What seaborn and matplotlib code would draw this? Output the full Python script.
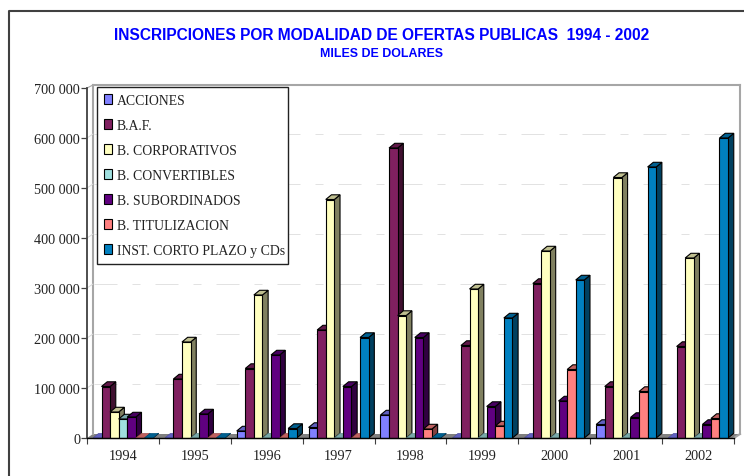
import matplotlib
matplotlib.use("Agg")
import matplotlib.pyplot as plt
from matplotlib.patches import Polygon, Patch
from matplotlib.colors import to_rgb
from matplotlib.lines import Line2D
import seaborn as sns
import pandas as pd

years = ["1994", "1995", "1996", "1997", "1998", "1999", "2000", "2001", "2002"]
acciones = [0, 0, 14, 21, 46, 0, 0, 27, 0]
baf = [103, 118, 139, 216, 580, 185, 309, 103, 183]
corporativos = [52, 192, 286, 477, 245, 298, 374, 521, 360]
convertibles = [38, 0, 0, 0, 0, 0, 0, 0, 0]
subordinados = [42, 48, 166, 103, 201, 63, 74, 41, 27]
titulizacion = [0, 0, 0, 0, 18, 24, 137, 93, 39]
corto_plazo = [0, 0, 19, 201, 0, 240, 316, 542, 600]
series_names = ["ACCIONES", "B.A.F.", "B. CORPORATIVOS", "B. CONVERTIBLES",
                "B. SUBORDINADOS", "B. TITULIZACION", "INST. CORTO PLAZO y CDs"]
series_values = [acciones, baf, corporativos, convertibles, subordinados, titulizacion, corto_plazo]
colors = ["#8080FF", "#802060", "#FFFFC0", "#A0E0E0", "#600080", "#FF8080", "#0080C0"]
y_ticks = [0, 100000, 200000, 300000, 400000, 500000, 600000, 700000]

W, H = 744, 477
sns.set_theme(style="white")
plt.rcParams["font.family"] = ["Liberation Serif", "DejaVu Serif"]

df = pd.DataFrame([
    {"year": y, "serie": n, "valor": v * 1000}
    for n, vals in zip(series_names, series_values)
    for y, v in zip(years, vals)
])

fig = plt.figure(figsize=(W / 100, H / 100), dpi=100, facecolor="white")
ax = fig.add_axes([87 / W, (H - 439) / H, (734 - 87) / W, 350 / H])
sns.barplot(data=df, x="year", y="valor", hue="serie", hue_order=series_names,
            palette=colors, width=0.835, dodge=True, errorbar=None, legend=False,
            saturation=1, edgecolor="black", linewidth=0.8, ax=ax)
ax.set_xlim(-0.5, 8.5)
ax.set_ylim(0, 700000)
ax.set_xlabel("")
ax.set_ylabel("")
ax.patch.set_alpha(0)

px_x = 9 / (734 - 87)      # data units per pixel, x
px_y = 2000                # data units per pixel, y
wall_dx, wall_dy = 6 * px_x, 4 * px_y
bar_dx, bar_dy = 5.7 * px_x, 4.7 * px_y
xl, xr = -0.5, 8.5

# walls and floor
ax.add_patch(Polygon([(xl, 0), (xr, 0), (xr + wall_dx, wall_dy), (xl + wall_dx, wall_dy)],
                     closed=True, fc="#808080", ec="none", clip_on=False, zorder=0.5))
wall_c = "#A6A6A6"
top = 700000 + 3 * px_y
for xs, ys in [((xl + wall_dx, xl + wall_dx), (wall_dy, top)),
               ((xl + wall_dx, xr + wall_dx), (top, top)),
               ((xr + wall_dx, xr + wall_dx), (wall_dy, top)),
               ((xr, xr + wall_dx), (0, wall_dy))]:
    ax.plot(xs, ys, color=wall_c, lw=1.5, clip_on=False, zorder=0.6, solid_capstyle="projecting")

for v in y_ticks[1:-1]:
    ax.plot([xl + wall_dx, xr + wall_dx], [v + wall_dy, v + wall_dy], color="#E2E2E2", lw=0.72,
            linestyle=(60, (23, 15, 8, 15)), clip_on=False, zorder=0.7)
    ax.plot([xl, xl + wall_dx], [v, v + wall_dy], color="#D8D8D8", lw=0.72, clip_on=False, zorder=0.7)
ax.plot([xl, xl + wall_dx], [700000, top], color=wall_c, lw=0.8, clip_on=False, zorder=0.7)

def shade(c, f):
    return tuple(f * k for k in to_rgb(c))

# extruded faces, built from the bars seaborn drew
for s_idx, cont in enumerate(ax.containers):
    col = colors[s_idx]
    for bar in cont.patches:
        x0, w, h = bar.get_x(), bar.get_width(), bar.get_height()
        x1 = x0 + w
        z = 2 + x0 + 0.001 * s_idx
        bar.set_zorder(z + 0.002)
        bar.set_clip_on(False)
        ax.add_patch(Polygon([(x1, 0), (x1 + bar_dx, bar_dy), (x1 + bar_dx, h + bar_dy), (x1, h)],
                             closed=True, fc=shade(col, 0.5), ec="black", lw=0.8,
                             clip_on=False, zorder=z))
        ax.add_patch(Polygon([(x0, h), (x1, h), (x1 + bar_dx, h + bar_dy), (x0 + bar_dx, h + bar_dy)],
                             closed=True, fc=shade(col, 0.75), ec="black" if h > 0 else shade(col, 0.6),
                             lw=0.8 if h > 0 else 0.4, clip_on=False, zorder=z + 0.001))

# axes
for s in ("top", "right"):
    ax.spines[s].set_visible(False)
ax.spines["left"].set_color("#404040")
ax.spines["left"].set_linewidth(1.3)
ax.spines["bottom"].set_color("black")
ax.spines["bottom"].set_linewidth(1.0)
ax.spines["bottom"].set_zorder(20)
ax.set_yticks(y_ticks)
ax.set_yticklabels([f"{v:,}".replace(",", " ") for v in y_ticks])
ax.set_xticks(range(len(years)))
ax.set_xticklabels(years)
ax.set_xticks([i - 0.5 for i in range(len(years) + 1)], minor=True)
ax.tick_params(axis="x", which="major", length=0, pad=8, labelsize=10.3, labelcolor="#222222")
ax.tick_params(axis="x", which="minor", length=4, width=0.8, color="#404040", bottom=True)
ax.tick_params(axis="y", length=4, width=0.9, color="#404040", left=True, pad=1,
               labelsize=10.3, labelcolor="#222222")

# legend
handles = [Patch(facecolor=c, edgecolor="black", linewidth=0.8) for c in colors]
lx0, ly_top, lw_, lh = 97 / W, (H - 88 ) / H, 191 / W, 177 / H
leg = ax.legend(handles, series_names, loc="upper left", mode="expand",
                bbox_to_anchor=(lx0, ly_top - lh, lw_, lh), bbox_transform=fig.transFigure,
                borderaxespad=0, fontsize=9.9, frameon=True, fancybox=False, framealpha=1,
                facecolor="white", edgecolor="#222222", handlelength=0.58, handleheight=0.78,
                handletextpad=0.36, labelspacing=0.875, borderpad=0.5, labelcolor="#222222")
leg.set_zorder(100)
leg.get_frame().set_linewidth(1.0)

# titles
fig.text(382 / W, 1 - 35.5 / H, "INSCRIPCIONES POR MODALIDAD DE OFERTAS PUBLICAS  1994 - 2002",
         ha="center", va="center", color="#0000FF", fontsize=11.2, fontweight="bold",
         family="Liberation Sans")
fig.text(382 / W, 1 - 54.5 / H, "MILES DE DOLARES", ha="center", va="center", color="#0000FF",
         fontsize=8.9, fontweight="bold", family="Liberation Sans")

# outer frame
fig.add_artist(Line2D([9.3 / W, 9.3 / W, 1], [0, 1 - 12 / H, 1 - 12 / H], color="#404040", lw=1.5,
                      transform=fig.transFigure))

fig.savefig("out.png", dpi=100)
